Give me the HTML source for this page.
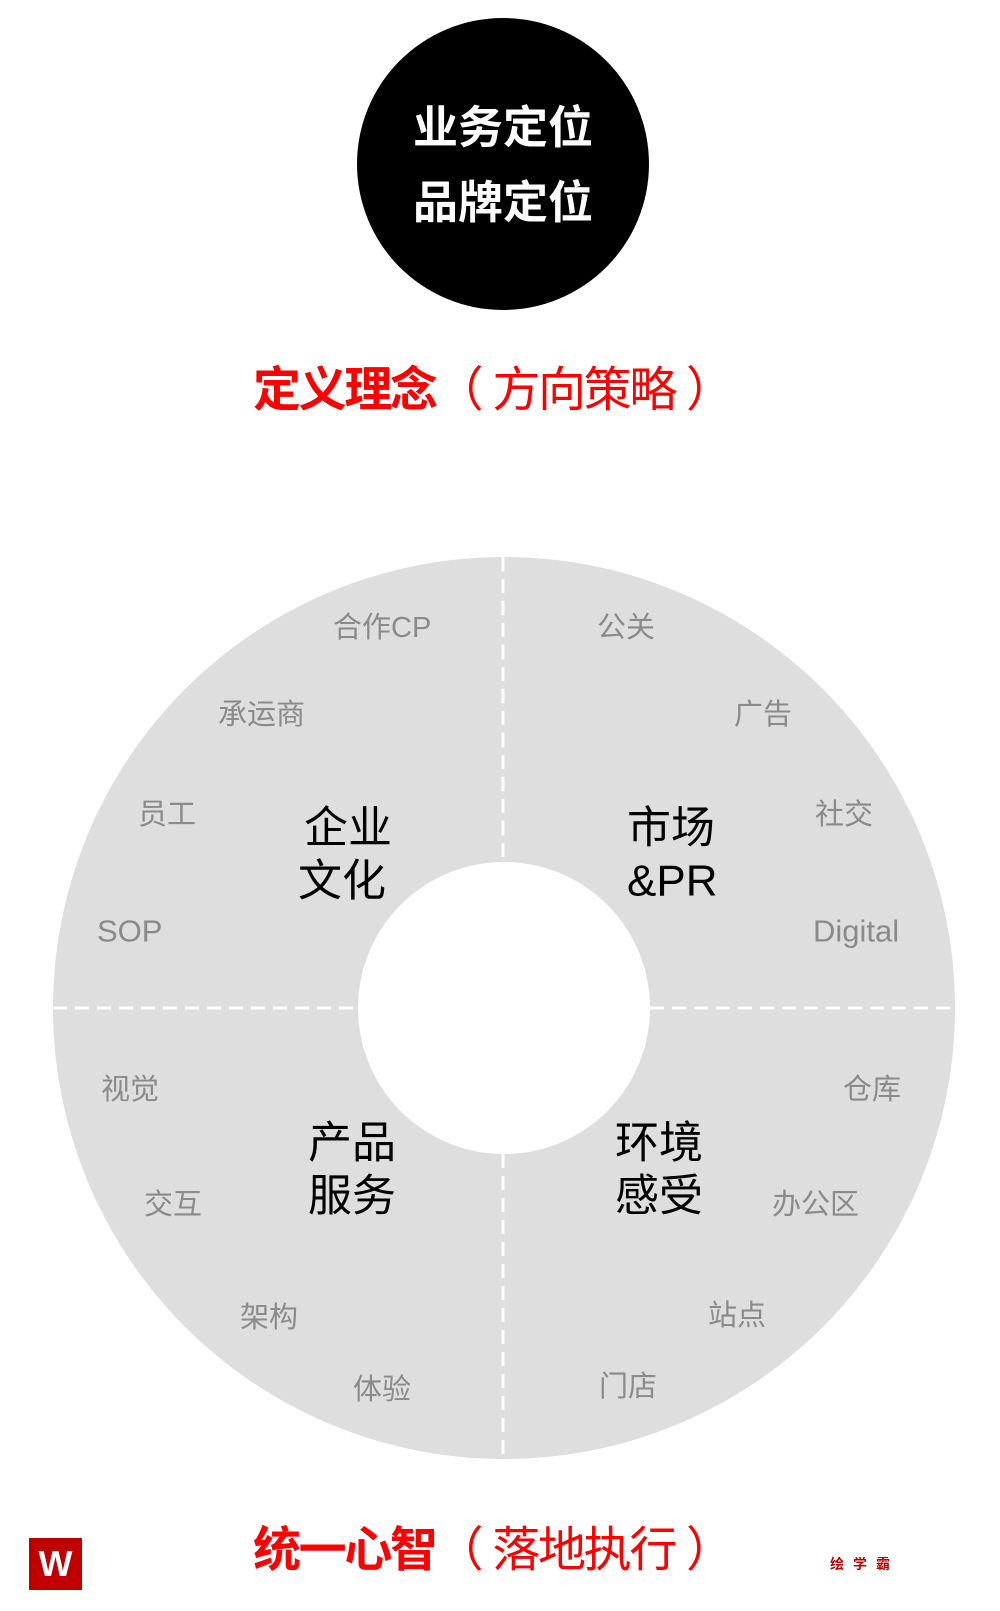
<!DOCTYPE html>
<html><head><meta charset="utf-8"><style>
html,body{margin:0;padding:0;background:#fff;}
svg{display:block;}
text{font-family:"Liberation Sans","Noto Sans CJK SC",sans-serif;}
</style></head><body>
<svg width="1000" height="1611" viewBox="0 0 1000 1611" xmlns="http://www.w3.org/2000/svg">
<circle cx="503" cy="164" r="146" fill="#000"/>
<text x="503" y="143" font-size="45" font-weight="bold" fill="#fff" text-anchor="middle">业务定位</text>
<text x="503" y="218" font-size="45" font-weight="bold" fill="#fff" text-anchor="middle">品牌定位</text>
<text x="253" y="406" font-size="48" fill="#f00" textLength="481" lengthAdjust="spacing"><tspan font-weight="bold">定义理念</tspan><tspan>（ 方向策略 ）</tspan></text>

<circle cx="504" cy="1008" r="451" fill="#dedede"/>
<circle cx="504" cy="1008" r="146" fill="#fff"/>
<g stroke="#fff" stroke-width="3" stroke-dasharray="14 8">
<line x1="503" y1="557" x2="503" y2="862"/>
<line x1="503" y1="1154" x2="503" y2="1459"/>
<line x1="53" y1="1008" x2="358" y2="1008"/>
<line x1="650" y1="1008" x2="955" y2="1008"/>
</g>
<g font-size="29" fill="#8a8a8a" dominant-baseline="central">
<text x="333" y="628">合作CP</text>
<text x="218" y="715">承运商</text>
<text x="138" y="815">员工</text>
<text x="97" y="931" font-size="31">SOP</text>
<text x="597" y="628">公关</text>
<text x="734" y="715">广告</text>
<text x="815" y="815">社交</text>
<text x="813" y="931" font-size="31">Digital</text>
<text x="101" y="1090">视觉</text>
<text x="144" y="1205">交互</text>
<text x="240" y="1318">架构</text>
<text x="353" y="1390">体验</text>
<text x="843" y="1090">仓库</text>
<text x="772" y="1205">办公区</text>
<text x="708" y="1316">站点</text>
<text x="599" y="1387">门店</text>
</g>
<g font-size="44" fill="#000" dominant-baseline="central">
<text x="304" y="828">企业</text>
<text x="298" y="881">文化</text>
<text x="627" y="828">市场</text>
<text x="627" y="881">&amp;PR</text>
<text x="308" y="1143">产品</text>
<text x="308" y="1196">服务</text>
<text x="615" y="1143">环境</text>
<text x="615" y="1196">感受</text>
</g>

<text x="253" y="1566" font-size="48" fill="#f00" textLength="481" lengthAdjust="spacing"><tspan font-weight="bold">统一心智</tspan><tspan>（ 落地执行 ）</tspan></text>
<rect x="29" y="1538" width="53" height="52" fill="#c00000"/>
<text x="55.5" y="1576" font-size="36" font-weight="bold" fill="#fff" text-anchor="middle">W</text>
<text x="830" y="1569" font-size="14" font-weight="bold" fill="#c00000" letter-spacing="9">绘学霸</text>
</svg>
</body></html>
